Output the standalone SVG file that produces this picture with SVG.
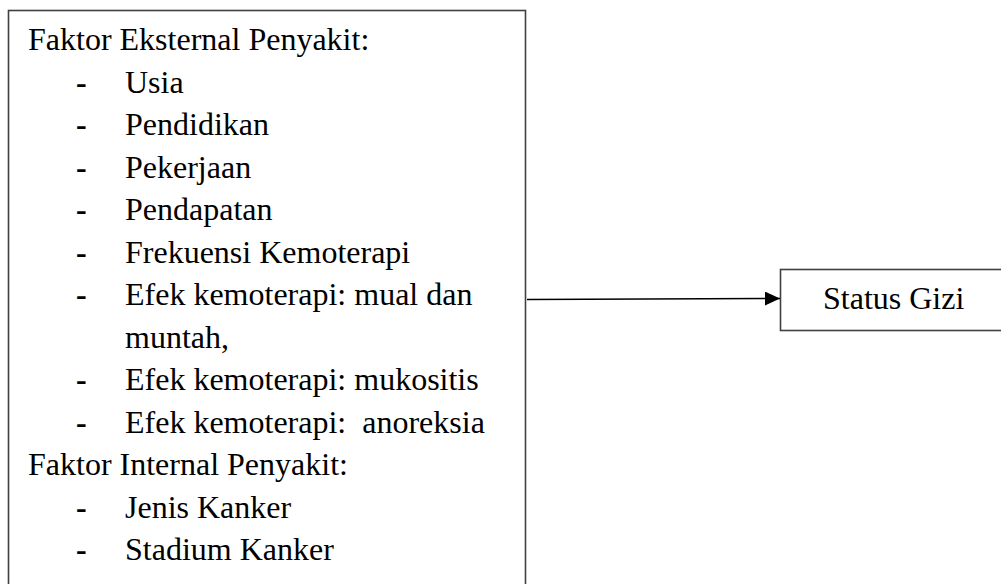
<svg xmlns="http://www.w3.org/2000/svg" width="1001" height="584" viewBox="0 0 1001 584">
<style>
.box{fill:#ffffff;stroke:#404040;stroke-width:1.6}
.t{font-family:'Liberation Serif','Times New Roman','DejaVu Serif',serif;font-size:32px;fill:#000000}
.d{font-weight:bold}
.conn{stroke:#000000;stroke-width:1.6;fill:none}
</style>
<defs>
<marker id="ah" markerWidth="15" markerHeight="14" refX="15" refY="7" orient="auto" markerUnits="userSpaceOnUse">
<path d="M0,0 L15,7 L0,14 Z" fill="#000000"/>
</marker>
</defs>
<rect width="1001" height="584" fill="#ffffff"/>
<g id="faktor" font-family="Liberation Serif, serif">
<rect class="box" x="8.5" y="10.5" width="517" height="600"/>
<text class="t" x="28" y="50">Faktor Eksternal Penyakit:</text>
<text class="t d" x="76" y="93">-</text><text class="t" x="125" y="93">Usia</text>
<text class="t d" x="76" y="135">-</text><text class="t" x="125" y="135">Pendidikan</text>
<text class="t d" x="76" y="178">-</text><text class="t" x="125" y="178">Pekerjaan</text>
<text class="t d" x="76" y="220">-</text><text class="t" x="125" y="220">Pendapatan</text>
<text class="t d" x="76" y="263">-</text><text class="t" x="125" y="263">Frekuensi Kemoterapi</text>
<text class="t d" x="76" y="305">-</text><text class="t" x="125" y="305">Efek kemoterapi: mual dan</text>
<text class="t" x="125" y="348">muntah,</text>
<text class="t d" x="76" y="390">-</text><text class="t" x="125" y="390">Efek kemoterapi: mukositis</text>
<text class="t d" x="76" y="433">-</text><text class="t" x="125" y="433" xml:space="preserve">Efek kemoterapi:  anoreksia</text>
<text class="t" x="28" y="475">Faktor Internal Penyakit:</text>
<text class="t d" x="76" y="518">-</text><text class="t" x="125" y="518">Jenis Kanker</text>
<text class="t d" x="76" y="560">-</text><text class="t" x="125" y="560">Stadium Kanker</text>
</g>
<g id="status-gizi" font-family="Liberation Serif, serif">
<rect class="box" x="780.5" y="269.5" width="240" height="61"/>
<text class="t" x="823" y="309">Status Gizi</text>
</g>
<g id="connectors">
<line class="conn" x1="527" y1="299.5" x2="780" y2="298.5" marker-end="url(#ah)"/>
</g>
</svg>
